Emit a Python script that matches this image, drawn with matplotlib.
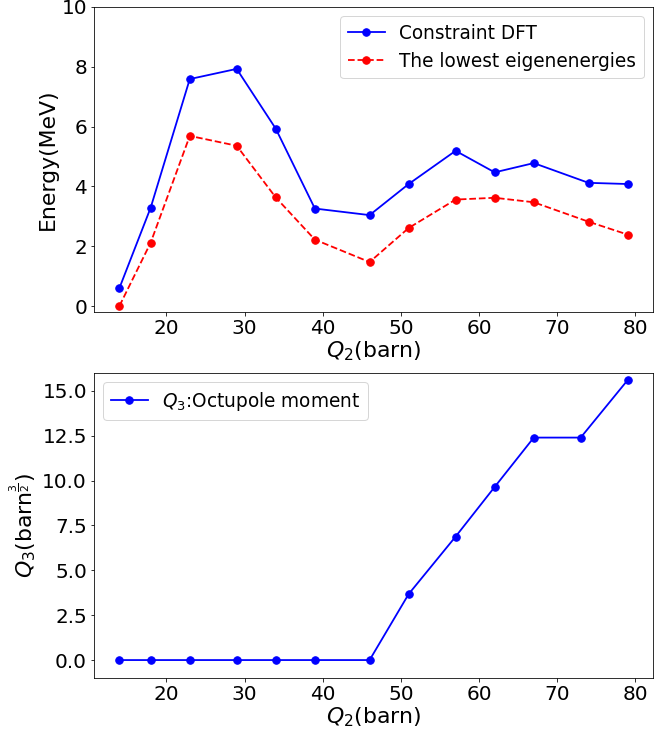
import matplotlib
matplotlib.use("Agg")
import matplotlib.pyplot as plt

# deformation points (barn)
q2 = [14, 18, 23, 29, 34, 39, 46, 51, 57, 62, 67, 74, 79]
e_dft = [0.60, 3.29, 7.59, 7.93, 5.93, 3.26, 3.04, 4.08, 5.19, 4.47, 4.78, 4.12, 4.08]
e_low = [0.00, 2.12, 5.69, 5.36, 3.63, 2.22, 1.47, 2.61, 3.56, 3.62, 3.47, 2.82, 2.39]

q2_oct = [14, 18, 23, 29, 34, 39, 46, 51, 57, 62, 67, 73, 79]
q3 = [0, 0, 0, 0, 0, 0, 0, 3.68, 6.88, 9.65, 12.4, 12.4, 15.6]

tick_fs = 20
label_fs = 22
leg_fs = 18.5
lw = 1.8
ms = 7.5
W, H = 654, 740
fig = plt.figure(figsize=(W / 72, H / 72), dpi=72)
ax1 = fig.add_axes([94 / W, 1 - 312 / H, 559 / W, 305 / H])
ax2 = fig.add_axes([94 / W, 1 - 678 / H, 559 / W, 305 / H])

ax1.plot(q2, e_dft, 'bo-', lw=lw, markersize=ms, label='Constraint DFT')
ax1.plot(q2, e_low, 'ro--', lw=lw, markersize=ms, label='The lowest eigenenergies')
ax1.set_ylim(-0.2, 10)
ax1.set_xlabel('$Q_2$(barn)', fontsize=label_fs, labelpad=1)
ax1.set_ylabel('Energy(MeV)', fontsize=label_fs)
ax1.tick_params(labelsize=tick_fs)
ax1.legend(fontsize=leg_fs, loc='upper right')

ax2.plot(q2_oct, q3, 'bo-', lw=lw, markersize=ms, label='$Q_3$:Octupole moment')
ax2.set_ylim(-1, 16)
ax2.set_xlabel('$Q_2$(barn)', fontsize=label_fs, labelpad=1)
ax2.set_ylabel(r'$Q_3$(barn$^{\frac{3}{2}}$)', fontsize=label_fs)
ax2.tick_params(labelsize=tick_fs)
ax2.legend(fontsize=leg_fs, loc='upper left')

fig.savefig('out.png', dpi=72)
